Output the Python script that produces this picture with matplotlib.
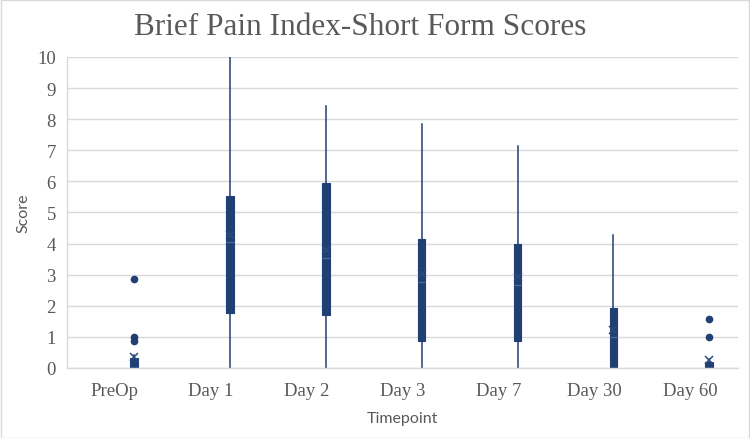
"""
Box plot of the Brief Pain Index-Short Form scores per timepoint.
"""

import matplotlib
matplotlib.use("Agg")
import matplotlib.pyplot as plt
from matplotlib.patches import Rectangle

# ###########################################################
# Data
# ###########################################################

timepoints = ["PreOp", "Day 1", "Day 2", "Day 3", "Day 7", "Day 30", "Day 60"]
q1 = [0.0, 1.77, 1.71, 0.87, 0.88, 0.0, 0.0]
q3 = [0.32, 5.54, 5.96, 4.15, 4.0, 1.93, 0.2]
median = [0.0, 4.04, 3.53, 2.78, 2.68, 1.0, 0.0]
mean = [0.36, 4.28, 3.78, 3.02, 2.94, 1.23, 0.27]
whisk_lo = [0.0, 0.0, 0.0, 0.0, 0.0, 0.0, 0.0]
whisk_hi = [0.43, 10.0, 8.43, 7.84, 7.14, 4.28, 0.29]
outliers = [[2.85, 1.0, 0.86], [], [], [], [], [], [1.58, 1.0]]

yticks = list(range(0, 11))

# ###########################################################
# Plot
# ###########################################################

navy = "#203F73"
grey_txt = "#595959"
grid_col = "#D9D9D9"

fig = plt.figure(figsize=(7.5, 4.39), dpi=100)
fig.patches.append(Rectangle((0.001, 0.001), 0.997, 0.996, transform=fig.transFigure,
                             fill=False, edgecolor=grid_col, lw=1.0))
ax = fig.add_axes([0.0893, 0.1595, 0.8947, 0.7085])

stats = []
for i in range(len(timepoints)):
    stats.append(dict(med=median[i], q1=q1[i], q3=q3[i], whislo=whisk_lo[i],
                      whishi=whisk_hi[i], mean=mean[i], fliers=outliers[i]))

positions = [i + 0.2 for i in range(len(timepoints))]
ax.bxp(stats, positions=positions, widths=0.08, patch_artist=True,
       showmeans=True, showcaps=False, manage_ticks=False,
       boxprops=dict(facecolor=navy, edgecolor=navy, lw=0.8),
       whiskerprops=dict(color=navy, lw=1.1),
       medianprops=dict(color="#4F6A98", lw=0.9),
       meanprops=dict(marker="x", markeredgecolor="#2A4A80", markersize=5.5, markeredgewidth=1.1),
       flierprops=dict(marker="o", markerfacecolor=navy, markeredgecolor=navy, markersize=4.5))

# axes limits and ticks
ax.set_xlim(-0.5, len(timepoints) - 0.5)
ax.set_ylim(0, 10)
ax.set_xticks(range(len(timepoints)))
ax.set_xticklabels(timepoints)
ax.set_yticks(yticks)
for lab in ax.get_xticklabels() + ax.get_yticklabels():
    lab.set_family("Liberation Serif")
    lab.set_fontsize(13.5)
    lab.set_color(grey_txt)
ax.tick_params(length=0)
ax.tick_params(axis="x", pad=10)
ax.tick_params(axis="y", pad=8)

# grid and spines
ax.yaxis.grid(True, color=grid_col, lw=1.0)
ax.set_axisbelow(True)
for side in ["top", "right"]:
    ax.spines[side].set_visible(False)
for side in ["left", "bottom"]:
    ax.spines[side].set_color(grid_col)
    ax.spines[side].set_linewidth(1.0)

# labels and title
ax.set_xlabel("Timepoint", family="Lato", fontsize=11.5, color=grey_txt, labelpad=9)
ax.set_ylabel("Score", family="Lato", fontsize=11.5, color=grey_txt, labelpad=5)
fig.text(0.48, 0.937, "Brief Pain Index-Short Form Scores", family="Liberation Serif",
         fontsize=22.5, color=grey_txt, ha="center", va="center")

fig.savefig("out.png", dpi=100)
